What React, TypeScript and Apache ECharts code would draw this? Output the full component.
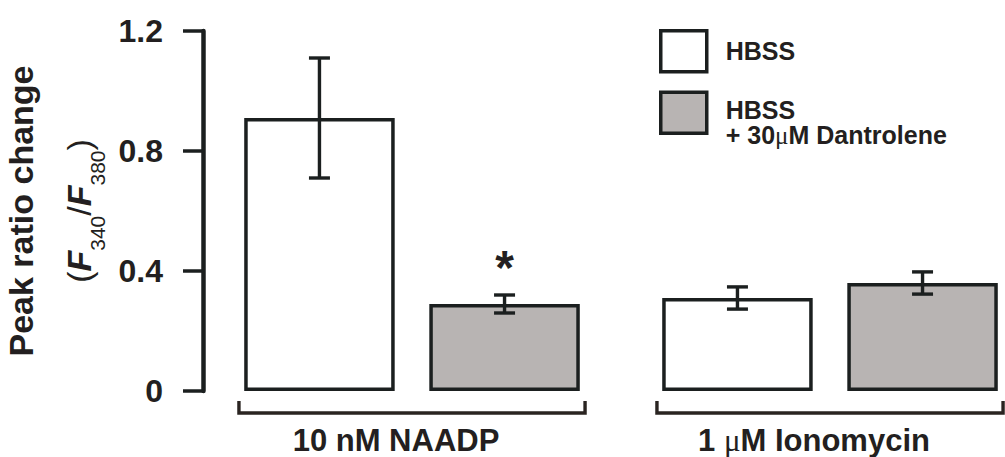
import React, { useEffect, useRef } from "react";
import * as echarts from "echarts";

// ---- data ----
const categories = ["10 nM NAADP", "1 μM Ionomycin"];
const seriesNames = ["HBSS", "HBSS + 30μM Dantrolene"];
const hbssMean = [0.91, 0.31];
const hbssSem = [0.2, 0.037];
const dantMean = [0.29, 0.36];
const dantSem = [0.03, 0.037];
const hbssSig = ["", ""];
const dantSig = ["*", ""];
const yTicks = [0, 0.4, 0.8, 1.2];

// ---- style ----
const INK = "#1b1f1f";
const TXT = "#231f20";
const GRAY = "#b8b4b3";
const SANS = "'Liberation Sans', Arial, Helvetica, sans-serif";
const SERIF = "'Liberation Serif', 'Times New Roman', serif";
const BAR_FRAC = 0.36;
const BAR_GAP = 0.23;
const OFF = (BAR_FRAC * (1 + BAR_GAP)) / 2;
const CAP = 10.5;

function richify(s: string): string {
  return s
    .split("μ")
    .map((p) => (p ? `{t|${p}}` : ""))
    .join("{m|μ}");
}

function makeErr(means: number[], sems: number[], sig: string[], side: number) {
  return {
    type: "custom",
    z: 5,
    silent: true,
    data: means.map((m, i) => [i, m, sems[i]]),
    encode: { x: 0, y: 1 },
    renderItem: (params: any, api: any) => {
      const i = api.value(0);
      const m = api.value(1);
      const e = api.value(2);
      const bw = api.size([1, 0])[0];
      const base = api.coord([i, m]);
      const x = base[0] + side * OFF * bw;
      const yT = api.coord([i, m + e])[1];
      const yB = api.coord([i, m - e])[1];
      const ls = { stroke: INK, lineWidth: 3.4 };
      const children: any[] = [
        { type: "line", shape: { x1: x, y1: yT, x2: x, y2: yB }, style: ls },
        { type: "line", shape: { x1: x - CAP, y1: yT, x2: x + CAP, y2: yT }, style: ls },
        { type: "line", shape: { x1: x - CAP, y1: yB, x2: x + CAP, y2: yB }, style: ls },
      ];
      const s = sig[params.dataIndex];
      if (s) {
        children.push({
          type: "text",
          x,
          y: yT - 28,
          style: {
            text: s,
            fill: TXT,
            fontSize: 48,
            fontWeight: "bold",
            fontFamily: SANS,
            align: "center",
            verticalAlign: "middle",
          },
        });
      }
      return { type: "group", children };
    },
  };
}

export default function App() {
  const ref = useRef<HTMLDivElement>(null);
  useEffect(() => {
    if (!ref.current) return;
    const chart = echarts.init(ref.current, undefined, { renderer: "svg" });
    const option: any = {
      animation: false,
      grid: { left: 203, top: 31, width: 836, height: 360, outerBoundsMode: "none", containLabel: false },
      legend: {
        orient: "vertical",
        left: 659,
        top: 29,
        padding: 0,
        icon: "rect",
        itemWidth: 46,
        itemHeight: 41,
        itemGap: 17,
        selectedMode: false,
        itemStyle: { borderColor: INK, borderWidth: 3.5 },
        data: [
          { name: seriesNames[0], textStyle: { padding: [0, 0, 0, 14] } },
          { name: seriesNames[1], textStyle: { padding: [20, 0, 0, 14] } },
        ],
        formatter: (name: string) =>
          name
            .replace(" + ", "\n+ ")
            .split("\n")
            .map(richify)
            .join("\n"),
        textStyle: {
          color: TXT,
          rich: {
            t: { fontSize: 25, fontWeight: "bold", fontFamily: SANS, color: TXT, lineHeight: 25 },
            m: { fontSize: 25, fontWeight: "normal", fontFamily: SERIF, color: TXT, lineHeight: 25 },
          },
        },
      },
      xAxis: {
        type: "category",
        data: categories,
        axisLine: { show: false },
        axisTick: { show: false },
        axisLabel: {
          margin: 36,
          padding: [0, 32, 0, 0],
          formatter: (v: string) => richify(v),
          rich: {
            t: { fontSize: 31, fontWeight: "bold", fontFamily: SANS, color: TXT, lineHeight: 27 },
            m: { fontSize: 31, fontWeight: "normal", fontFamily: SERIF, color: TXT, lineHeight: 27 },
          },
        },
      },
      yAxis: {
        type: "value",
        min: yTicks[0],
        max: yTicks[yTicks.length - 1],
        interval: yTicks[1] - yTicks[0],
        splitLine: { show: false },
        axisLine: { show: true, lineStyle: { color: INK, width: 4.5 } },
        axisTick: { show: true, length: 20, lineStyle: { color: INK, width: 3.5 } },
        axisLabel: {
          margin: 40,
          color: TXT,
          fontSize: 32,
          fontWeight: "bold",
          fontFamily: SANS,
        },
        name: "{a|Peak ratio change}\n{p|(}{i|F}{s|340}{p|/}{i|F}{s|380}{p|)}",
        nameLocation: "middle",
        nameRotate: 90,
        nameGap: 86,
        nameTextStyle: {
          rich: {
            a: { fontSize: 34, fontWeight: "bold", fontFamily: SANS, color: TXT, lineHeight: 58 },
            p: { fontSize: 34, fontWeight: "normal", fontFamily: SANS, color: TXT, lineHeight: 58 },
            i: { fontSize: 34, fontWeight: "bold", fontStyle: "italic", fontFamily: SANS, color: TXT, lineHeight: 58 },
            s: { fontSize: 21, fontWeight: "normal", fontFamily: SANS, color: TXT, lineHeight: 34, verticalAlign: "bottom" },
          },
        },
      },
      series: [
        {
          name: seriesNames[0],
          type: "bar",
          data: hbssMean,
          barWidth: `${BAR_FRAC * 100}%`,
          barGap: `${BAR_GAP * 100}%`,
          itemStyle: { color: "#ffffff", borderColor: INK, borderWidth: 3.5 },
        },
        {
          name: seriesNames[1],
          type: "bar",
          data: dantMean,
          barWidth: `${BAR_FRAC * 100}%`,
          barGap: `${BAR_GAP * 100}%`,
          itemStyle: { color: GRAY, borderColor: INK, borderWidth: 3.5 },
        },
        makeErr(hbssMean, hbssSem, hbssSig, -1),
        makeErr(dantMean, dantSem, dantSig, 1),
      ],
    };
    chart.setOption(option);

    // group brackets under the x axis
    const y0 = chart.convertToPixel({ yAxisIndex: 0 }, yTicks[0]) as number;
    const c0 = chart.convertToPixel({ xAxisIndex: 0 }, 0) as number;
    const c1 = chart.convertToPixel({ xAxisIndex: 0 }, 1) as number;
    const bw = c1 - c0;
    const half = 0.414 * bw;
    const graphic = categories.map((_, i) => {
      const cx = chart.convertToPixel({ xAxisIndex: 0 }, i) as number;
      return {
        type: "polyline",
        silent: true,
        shape: {
          points: [
            [cx - half, y0 + 10],
            [cx - half, y0 + 22],
            [cx + half, y0 + 22],
            [cx + half, y0 + 10],
          ],
        },
        style: { stroke: "#2a2421", lineWidth: 3.4, fill: "none" },
      };
    });
    chart.setOption({ graphic });

    return () => chart.dispose();
  }, []);
  return (
    <div
      ref={ref}
      style={{ position: "absolute", left: 0, top: 0, width: 1005, height: 457 }}
    />
  );
}
